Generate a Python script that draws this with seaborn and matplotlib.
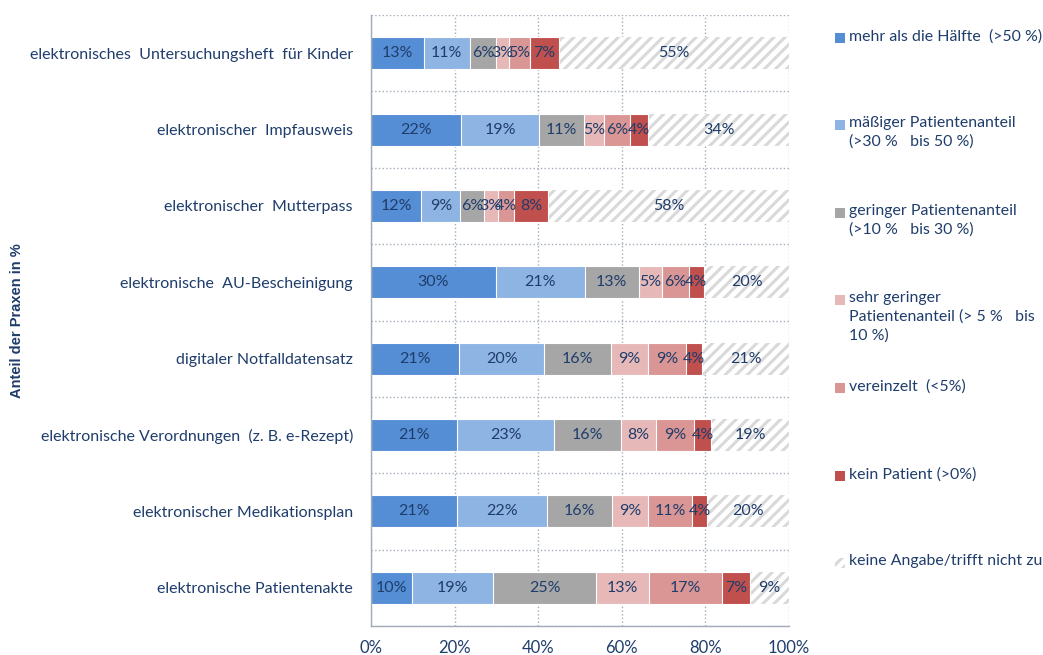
import pandas as pd
import matplotlib
matplotlib.use("Agg")
from matplotlib import pyplot as plt
from matplotlib.patches import Rectangle
import seaborn as sns

categories = [
    "elektronisches  Untersuchungsheft  für Kinder",
    "elektronischer  Impfausweis",
    "elektronischer  Mutterpass",
    "elektronische  AU-Bescheinigung",
    "digitaler Notfalldatensatz",
    "elektronische Verordnungen  (z. B. e-Rezept)",
    "elektronischer Medikationsplan",
    "elektronische Patientenakte",
]

mehr_als_haelfte = [12.6, 21.5, 12.0, 29.8, 21.1, 20.6, 20.6, 9.8]
maessig = [11.1, 18.7, 9.4, 21.3, 20.4, 23.2, 21.5, 19.4]
gering = [6.2, 10.8, 5.6, 13.0, 15.9, 16.0, 15.6, 24.6]
sehr_gering = [3.1, 4.8, 3.3, 5.4, 8.9, 8.4, 8.6, 12.8]
vereinzelt = [5.0, 6.2, 3.9, 6.5, 9.1, 9.1, 10.6, 17.4]
kein_patient = [7.0, 4.3, 8.1, 3.7, 3.8, 4.1, 3.6, 6.6]
keine_angabe = [55.0, 33.7, 57.7, 20.3, 20.8, 18.6, 19.5, 9.4]

series_labels = [
    "mehr als die Hälfte  (>50 %)",
    "mäßiger Patientenanteil\n(>30 %   bis 50 %)",
    "geringer Patientenanteil\n(>10 %   bis 30 %)",
    "sehr geringer\nPatientenanteil (> 5 %   bis\n10 %)",
    "vereinzelt  (<5%)",
    "kein Patient (>0%)",
    "keine Angabe/trifft nicht zu",
]
x_ticks = [0, 20, 40, 60, 80, 100]
x_tick_labels = ["0%", "20%", "40%", "60%", "80%", "100%"]

colors = ["#558ED5", "#8EB4E3", "#A6A6A6", "#E6B9B8", "#D99694", "#C0504D", "white"]
navy = "#1F3D6B"
grid_col = "#A3AAB8"
hatch_col = "#D9D9D9"

sns.set_style("white")
plt.rcParams["font.family"] = ["Lato", "DejaVu Sans"]
plt.rcParams["hatch.linewidth"] = 2.2

series = [mehr_als_haelfte, maessig, gering, sehr_gering, vereinzelt, kein_patient, keine_angabe]
df = pd.DataFrame({"category": categories})
cum = [0.0] * len(categories)
cum_cols = []
for i, s in enumerate(series):
    cum = [c + v for c, v in zip(cum, s)]
    df[f"cum{i}"] = cum
    cum_cols.append(f"cum{i}")

fig = plt.figure(figsize=(10.43, 6.55), dpi=100)
ax = fig.add_axes([371 / 1043, 1 - 626 / 655, 418 / 1043, 611 / 655])

# stacked bars: draw cumulative totals from the back
for i in reversed(range(len(series))):
    kw = dict(edgecolor="white", linewidth=0.8)
    if i == len(series) - 1:
        kw = dict(edgecolor=hatch_col, linewidth=0, hatch="///")
    sns.barplot(data=df, y="category", x=cum_cols[i], color=colors[i], saturation=1,
                orient="h", width=0.42, errorbar=None, ax=ax, **kw)

# segment labels
left = [0.0] * len(categories)
for s in series:
    for j, v in enumerate(s):
        ax.text(left[j] + v / 2, j, f"{v:.0f}%", ha="center", va="center",
                color=navy, fontsize=11.5)
    left = [l + v for l, v in zip(left, s)]

ax.set_xlim(0, 100)
ax.set_ylim(len(categories) - 0.5, -0.5)
ax.set_xticks(x_ticks)
ax.set_xticklabels(x_tick_labels, color=navy, fontsize=12)
ax.set_yticks(range(len(categories)))
ax.set_yticklabels(categories, color=navy, fontsize=11.5)
ax.set_yticks([k - 0.5 for k in range(len(categories) + 1)], minor=True)
ax.tick_params(axis="y", which="major", length=0, pad=13)
ax.tick_params(axis="y", which="minor", length=5, color=grid_col, direction="out")
ax.tick_params(axis="x", length=5, color=grid_col, direction="out", pad=5)
ax.set_xlabel("")
ax.set_ylabel("")
ax.set_axisbelow(True)
ax.grid(axis="y", which="minor", linestyle=":", color=grid_col, linewidth=1)
ax.grid(axis="x", which="major", linestyle=":", color=grid_col, linewidth=1)
for side in ["top", "right"]:
    ax.spines[side].set_visible(False)
for side in ["left", "bottom"]:
    ax.spines[side].set_color(grid_col)
    ax.spines[side].set_linewidth(1)

fig.text(17 / 1043, 1 - 321 / 655, "Anteil der Praxen in %", rotation=90, ha="center",
         va="center", color=navy, fontsize=10.5, fontweight="bold",
         family=["Liberation Sans", "DejaVu Sans"])

# legend on the right
legend_y = [38, 125, 213, 300, 388, 476, 563]
for i, (lab, yc) in enumerate(zip(series_labels, legend_y)):
    if i == len(series) - 1:
        r = Rectangle((835 / 1043, 1 - (yc + 5) / 655), 10 / 1043, 10 / 655,
                      transform=fig.transFigure, facecolor="white", edgecolor=hatch_col,
                      linewidth=0, hatch="///")
    else:
        r = Rectangle((835 / 1043, 1 - (yc + 5) / 655), 10 / 1043, 10 / 655,
                      transform=fig.transFigure, facecolor=colors[i], linewidth=0)
    fig.add_artist(r)
    fig.text(849 / 1043, 1 - (yc - 9) / 655, lab, ha="left", va="top", color=navy,
             fontsize=11.4, linespacing=1.4)

fig.savefig("out.png", dpi=100)
